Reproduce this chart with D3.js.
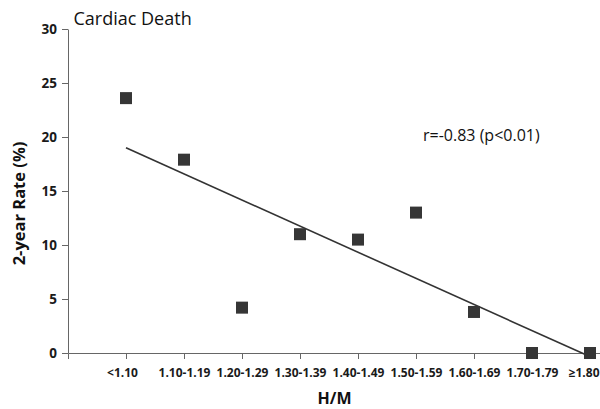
<!DOCTYPE html>
<html>
<head>
<meta charset="utf-8">
<style>
  html, body { margin: 0; padding: 0; background: #fff; }
  svg { display: block; font-family: "Open Sans", sans-serif; }
  .axis path, .axis line { stroke: #666; }
  .axis text { font-family: "Open Sans", sans-serif; font-weight: bold; font-size: 12px; fill: #1a1a1a; }
  .axis.y text { font-size: 13.5px; }
</style>
</head>
<body>
<div id="chart"></div>
<script src="https://d3js.org/d3.v7.min.js"></script>
<script>

var categories = ["<1.10", "1.10-1.19", "1.20-1.29", "1.30-1.39", "1.40-1.49", "1.50-1.59", "1.60-1.69", "1.70-1.79", "\u22651.80"];
var rates = [23.6, 17.9, 4.2, 11.0, 10.5, 13.0, 3.8, 0, 0];
var yTicks = [0, 5, 10, 15, 20, 25, 30];
// fitted line: category position -> rate
var trendX = [0, 7.9];
var trendY = [19.0, -0.1];

var width = 600, height = 409;

var svg = d3.select("#chart").append("svg")
    .attr("width", width)
    .attr("height", height);

// x is a category index; -1 sits on the y axis
var x = d3.scaleLinear()
    .domain([-1, 8.2])
    .range([68, 601.6]);

var y = d3.scaleLinear()
    .domain([0, 30])
    .range([353, 29]);

var xAxis = svg.append("g")
    .attr("class", "axis x")
    .attr("transform", "translate(0," + y(0) + ")")
    .call(d3.axisBottom(x)
      .tickValues(d3.range(categories.length))
      .tickFormat(function(i) { return categories[i]; })
      .tickSize(6)
      .tickPadding(9));

// keep the first and last labels where the original puts them
xAxis.selectAll(".tick text")
    .attr("dx", function(d, i) { return i === 0 ? -4 : 0; })
    .filter(function(d, i) { return i === categories.length - 1; })
    .attr("text-anchor", "end")
    .attr("x", 599 - x(categories.length - 1));

svg.append("g")
    .attr("class", "axis y")
    .attr("transform", "translate(" + x(-1) + ",0)")
    .call(d3.axisLeft(y)
      .tickValues(yTicks)
      .tickSize(6)
      .tickSizeOuter(0)
      .tickPadding(5));

// trend line
svg.append("line")
    .attr("x1", x(trendX[0]))
    .attr("y1", y(trendY[0]))
    .attr("x2", x(trendX[1]))
    .attr("y2", y(trendY[1]))
    .attr("stroke", "#333")
    .attr("stroke-width", 1.6);

var size = 12;
svg.selectAll(".pt")
    .data(rates)
  .enter().append("rect")
    .attr("class", "pt")
    .attr("x", function(d, i) { return x(i) - size / 2; })
    .attr("y", function(d) { return y(d) - size / 2; })
    .attr("width", size)
    .attr("height", size)
    .attr("fill", "#363636");

svg.append("text")
    .attr("x", 73.5)
    .attr("y", 25)
    .attr("font-size", "18px")
    .attr("fill", "#111")
    .text("Cardiac Death");

svg.append("text")
    .attr("x", 423)
    .attr("y", 141)
    .attr("font-size", "16px")
    .attr("fill", "#111")
    .text("r=-0.83 (p<0.01)");

svg.append("text")
    .attr("transform", "translate(25,203.5) rotate(-90)")
    .attr("text-anchor", "middle")
    .attr("font-size", "16.5px")
    .attr("font-weight", "bold")
    .attr("fill", "#111")
    .text("2-year Rate (%)");

svg.append("text")
    .attr("x", 334.5)
    .attr("y", 404)
    .attr("text-anchor", "middle")
    .attr("font-size", "16px")
    .attr("font-weight", "bold")
    .attr("fill", "#111")
    .text("H/M");

</script>
</body>
</html>
